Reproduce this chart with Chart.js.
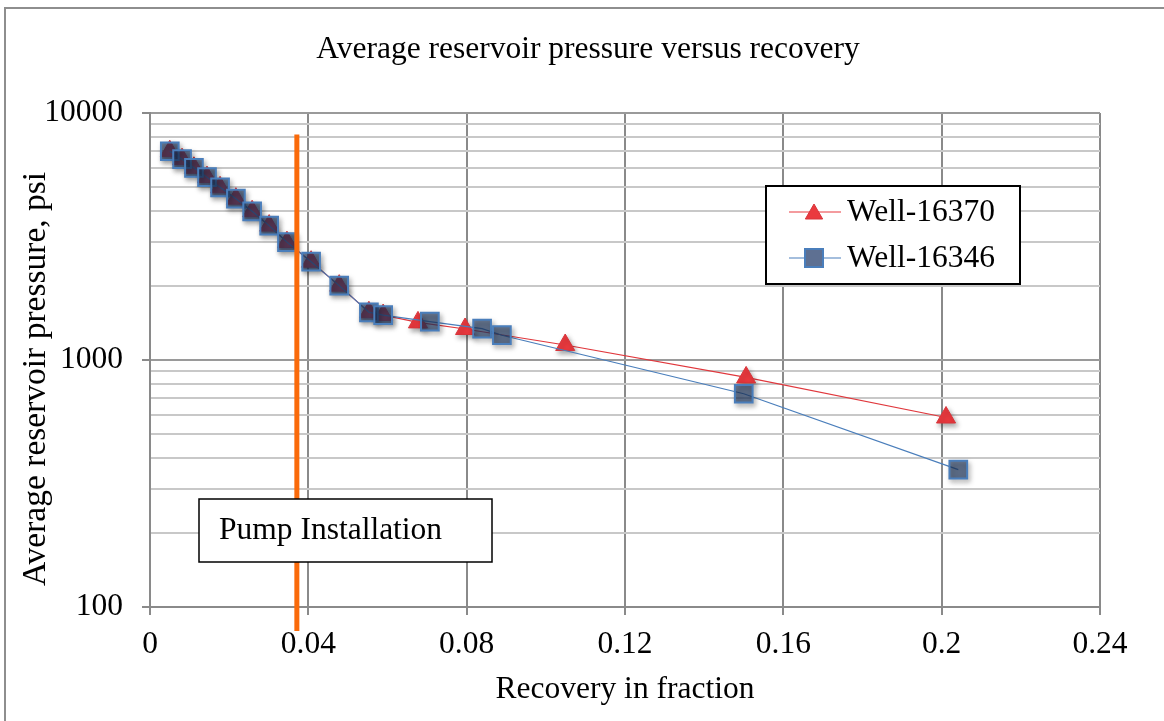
<!DOCTYPE html>
<html>
<head>
<meta charset="utf-8">
<script src="https://cdn.jsdelivr.net/npm/chart.js@4/dist/chart.umd.min.js"></script>
<style>
  html, body { margin: 0; padding: 0; background: #fff; }
  canvas { display: block; }
</style>
</head>
<body>
<canvas id="chart" width="1164" height="721"></canvas>
<script>
"use strict";
// Well-16346: recovery fraction vs average reservoir pressure (psi)
const recovery16346 = [0.0050, 0.0081, 0.0111, 0.0144, 0.0177, 0.0217, 0.0258, 0.0301, 0.0346,
                       0.0407, 0.0478, 0.0553, 0.0589, 0.0707, 0.0839, 0.0889, 0.1500, 0.2042];
const pressure16346 = [7000, 6500, 6000, 5500, 5000, 4500, 4000, 3500, 3000,
                       2500, 2000, 1560, 1520, 1430, 1340, 1260, 730, 360];
// Well-16370 follows the same history until ~6% recovery
const recovery16370 = [0.0050, 0.0081, 0.0111, 0.0144, 0.0177, 0.0217, 0.0258, 0.0301, 0.0346,
                       0.0407, 0.0478, 0.0553, 0.0589, 0.0677, 0.0796, 0.1049, 0.1506, 0.2011];
const pressure16370 = [7000, 6500, 6000, 5500, 5000, 4500, 4000, 3500, 3000,
                       2500, 2000, 1560, 1520, 1420, 1335, 1150, 850, 585];
// pump installation marker: recovery at install, psi span of the drawn line
const pumpRecovery = 0.0371;
const pumpSpan = [8180, 80];

const xTicks = [0, 0.04, 0.08, 0.12, 0.16, 0.2, 0.24];
const yGrid = [100, 200, 300, 400, 500, 600, 700, 800, 900,
               1000, 2000, 3000, 4000, 5000, 6000, 7000, 8000, 9000, 10000];
const yLabels = [100, 1000, 10000];

const chartTitle = "Average reservoir pressure versus recovery";
const xTitle = "Recovery in fraction";
const yTitle = "Average reservoir pressure, psi";
const pumpLabel = "Pump Installation";

const SERIF = "'Liberation Serif', 'Times New Roman', serif";
const FS = 31.5;
const pts = (xs, ys) => xs.map((x, i) => ({ x, y: ys[i] }));
const isMajor = v => yLabels.includes(v);

const RED = "#EA393E", BLUE = "#4A7EBB", SQUARE = "rgba(30,55,95,0.65)";

// soft drop shadow behind marker datasets
const markerShadow = {
  id: "markerShadow",
  beforeDatasetDraw(chart, args){
    if(!chart.data.datasets[args.index].shadow) return;
    const c = chart.ctx; c.save();
    c.shadowColor = "rgba(0,0,0,0.35)"; c.shadowBlur = 5; c.shadowOffsetX = 2; c.shadowOffsetY = 3;
  },
  afterDatasetDraw(chart, args){
    if(chart.data.datasets[args.index].shadow) chart.ctx.restore();
  }
};

// background, outer frame
const frame = {
  id: "frame",
  beforeDraw(chart){
    const c = chart.ctx; c.save();
    c.fillStyle = "#fff"; c.fillRect(0, 0, chart.width, chart.height);
    c.strokeStyle = "#8e8e8e"; c.lineWidth = 2;
    c.strokeRect(5, 8, chart.width + 20, chart.height + 20);
    c.restore();
  }
};

function tri(c, x, y, r){
  c.beginPath();
  c.moveTo(x, y - r); c.lineTo(x + r * 0.866, y + r / 2); c.lineTo(x - r * 0.866, y + r / 2);
  c.closePath(); c.fill(); c.stroke();
}

// titles, pump label box and legend
const overlay = {
  id: "overlay",
  afterDraw(chart){
    const c = chart.ctx; c.save();
    c.font = FS + "px " + SERIF; c.fillStyle = "#000"; c.textBaseline = "middle";
    c.textAlign = "center"; c.fillText(chartTitle, 588, 50);

    // rotated y-axis title, sitting a little below the axis midpoint
    c.save();
    c.translate(36, 379); c.rotate(-Math.PI / 2);
    c.font = "33.5px " + SERIF; c.fillText(yTitle, 0, 0);
    c.restore();

    c.fillStyle = "#fff"; c.fillRect(199, 499, 293, 63);
    c.strokeStyle = "#000"; c.lineWidth = 1.5; c.strokeRect(199, 499, 293, 63);
    c.fillStyle = "#000"; c.textAlign = "left"; c.fillText(pumpLabel, 219, 531);

    c.fillStyle = "#fff"; c.fillRect(766, 186, 254, 98);
    c.strokeStyle = "#000"; c.lineWidth = 2; c.strokeRect(766, 186, 254, 98);
    const rows = [
      { y: 212, text: "Well-16370", line: RED, kind: "tri" },
      { y: 258, text: "Well-16346", line: BLUE, kind: "rect" }
    ];
    rows.forEach(r => {
      c.strokeStyle = r.line; c.lineWidth = 1.2;
      c.beginPath(); c.moveTo(789, r.y); c.lineTo(841, r.y); c.stroke();
      if(r.kind === "tri"){
        c.fillStyle = RED; c.strokeStyle = "#D8343A"; c.lineWidth = 1; tri(c, 814, r.y + 2, 10);
      } else {
        c.fillStyle = "#5E7092"; c.strokeStyle = BLUE; c.lineWidth = 2;
        c.fillRect(805, r.y - 9, 18, 18); c.strokeRect(805, r.y - 9, 18, 18);
      }
      c.fillStyle = "#000"; c.textAlign = "left"; c.fillText(r.text, 847, r.y + 1);
    });
    c.restore();
  }
};

Chart.defaults.font.family = SERIF;
Chart.defaults.color = "#000";

new Chart(document.getElementById("chart"), {
  type: "scatter",
  data: {
    datasets: [
      { label: "Pump Installation", data: [{ x: pumpRecovery, y: pumpSpan[0] }, { x: pumpRecovery, y: pumpSpan[1] }],
        showLine: true, borderColor: "#FA6A0A", borderWidth: 5, pointRadius: 0, clip: false, order: 1 },
      { label: "Well-16346", data: pts(recovery16346, pressure16346), showLine: false,
        pointStyle: "rect", pointRadius: 12.5, backgroundColor: SQUARE,
        borderColor: BLUE, borderWidth: 2, shadow: true, order: 2 },
      { label: "Well-16346", data: pts(recovery16346, pressure16346), showLine: true,
        borderColor: BLUE, borderWidth: 1.2, pointRadius: 0, order: 3 },
      { label: "Well-16370", data: pts(recovery16370, pressure16370), showLine: false,
        pointStyle: "triangle", pointRadius: 11, backgroundColor: RED,
        borderColor: "#D8343A", borderWidth: 1, shadow: true, order: 4 },
      { label: "Well-16370", data: pts(recovery16370, pressure16370), showLine: true,
        borderColor: "#E0373C", borderWidth: 1.2, pointRadius: 0, order: 5 }
    ]
  },
  options: {
    responsive: false,
    animation: false,
    events: [],
    layout: { padding: { left: 5, right: 64, top: 113, bottom: 0 } },
    plugins: { legend: { display: false }, title: { display: false }, tooltip: { enabled: false } },
    scales: {
      x: {
        type: "linear", min: 0, max: 0.24,
        afterBuildTicks: s => { s.ticks = xTicks.map(v => ({ value: v })); },
        afterFit: s => { s.height = 114; },
        ticks: { font: { size: FS }, color: "#000", padding: 11, callback: v => String(+v.toFixed(2)) },
        grid: { color: "#8a8a8a", lineWidth: 2, tickLength: 8, tickColor: "#8a8a8a" },
        border: { color: "#8a8a8a", width: 2 },
        title: { display: true, text: xTitle, font: { size: FS }, color: "#000", padding: { top: 0, bottom: 12 } }
      },
      y: {
        type: "logarithmic", min: 100, max: 10000,
        afterBuildTicks: s => { s.ticks = yGrid.map(v => ({ value: v, major: isMajor(v) })); },
        afterFit: s => { s.width = 145; },
        ticks: { autoSkip: false, font: { size: FS }, color: "#000", padding: 19,
                 callback: v => isMajor(v) ? String(v) : "" },
        grid: { lineWidth: 2, tickLength: 8,
                color: ctx => ctx.tick && isMajor(ctx.tick.value) ? "#9a9a9a" : "#c8c8c8",
                tickColor: ctx => ctx.tick && isMajor(ctx.tick.value) ? "#8a8a8a" : "rgba(0,0,0,0)" },
        border: { color: "#8a8a8a", width: 2 }
      }
    }
  },
  plugins: [frame, markerShadow, overlay]
});
</script>
</body>
</html>
